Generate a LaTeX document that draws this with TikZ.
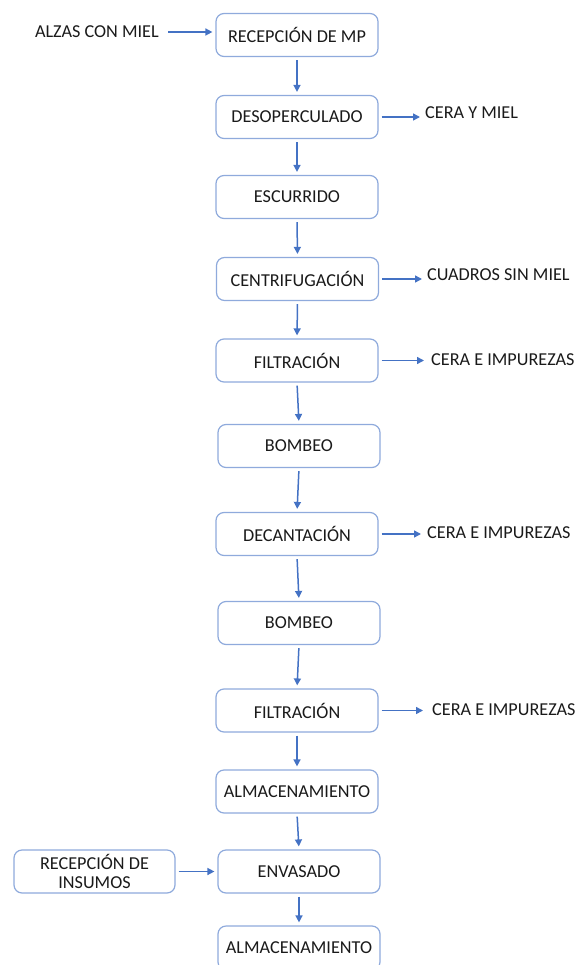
\documentclass[tikz,border=0pt]{standalone}
\usepackage{fontspec}
\setmainfont{Carlito}
\usepackage{tikz}
\usetikzlibrary{arrows.meta}
\definecolor{flecha}{HTML}{4472C4}
\definecolor{borde}{HTML}{8FAADC}
\definecolor{texto}{HTML}{1A1A1A}

\begin{document}
\begin{tikzpicture}[x=1pt,y=-1pt,
    etapa/.style={draw=borde,line width=1.2pt,rounded corners=8pt,fill=white,
      minimum width=162pt,minimum height=43pt,inner sep=2pt,align=center,
      text=texto,font=\fontsize{18.2}{19}\selectfont},
    salida/.style={inner sep=0pt,text=texto,font=\fontsize{18.2}{19}\selectfont},
    flujo/.style={draw=flecha,line width=1.5pt,-{Triangle[length=7pt,width=7pt]},
      shorten <=3pt,shorten >=3pt}]
    \useasboundingbox (0,0) rectangle (578,965);

    \node[etapa] (m1) at (297,35) {RECEPCIÓN DE MP};
    \node[etapa] (m2) at (297,117) {DESOPERCULADO};
    \node[etapa] (m3) at (297,197) {ESCURRIDO};
    \node[etapa] (m4) at (297.5,279) {CENTRIFUGACIÓN};
    \node[etapa] (m5) at (297,360.5) {FILTRACIÓN};
    \node[etapa] (m6) at (299,446) {BOMBEO};
    \node[etapa] (m7) at (297,534) {DECANTACIÓN};
    \node[etapa] (m8) at (299,623) {BOMBEO};
    \node[etapa] (m9) at (297,710.5) {FILTRACIÓN};
    \node[etapa] (m10) at (297,791.5) {ALMACENAMIENTO};
    \node[etapa] (m11) at (299,871.5) {ENVASADO};
    \node[etapa,minimum height=44pt] (m12) at (299,948) {ALMACENAMIENTO};
    \node[etapa,minimum width=161pt] (ins) at (94.5,871.5) {RECEPCIÓN DE\\INSUMOS};

    \node[salida,anchor=east] (alzas) at (159,32) {ALZAS CON MIEL};
    \node[salida,anchor=west] (s2) at (425,113) {CERA Y MIEL};
    \node[salida,anchor=west] (s4) at (427,275) {CUADROS SIN MIEL};
    \node[salida,anchor=west] (s5) at (431,360) {CERA E IMPUREZAS};
    \node[salida,anchor=west] (s7) at (427,533) {CERA E IMPUREZAS};
    \node[salida,anchor=west] (s9) at (432,710) {CERA E IMPUREZAS};

    \foreach \a/\b in {m1/m2,m2/m3,m3/m4,m4/m5,m5/m6,m6/m7,m7/m8,m8/m9,m9/m10,m10/m11,m11/m12}
      \draw[flujo] (\a.south) -- (\b.north);

    \draw[flujo,shorten <=9pt] (alzas.east) -- (m1.west |- alzas.east);
    \draw[flujo,shorten >=5pt] (m2.east) -- (s2.west |- m2.east);
    \draw[flujo,shorten >=5pt] (m4.east) -- (s4.west |- m4.east);
    \draw[flujo,shorten >=7pt] (m5.east) -- (s5.west |- m5.east);
    \draw[flujo,shorten >=6pt] (m7.east) -- (s7.west |- m7.east);
    \draw[flujo,shorten >=9pt] (m9.east) -- (s9.west |- m9.east);
    \draw[flujo] (ins.east) -- (m11.west);
  \end{tikzpicture}
\end{document}
